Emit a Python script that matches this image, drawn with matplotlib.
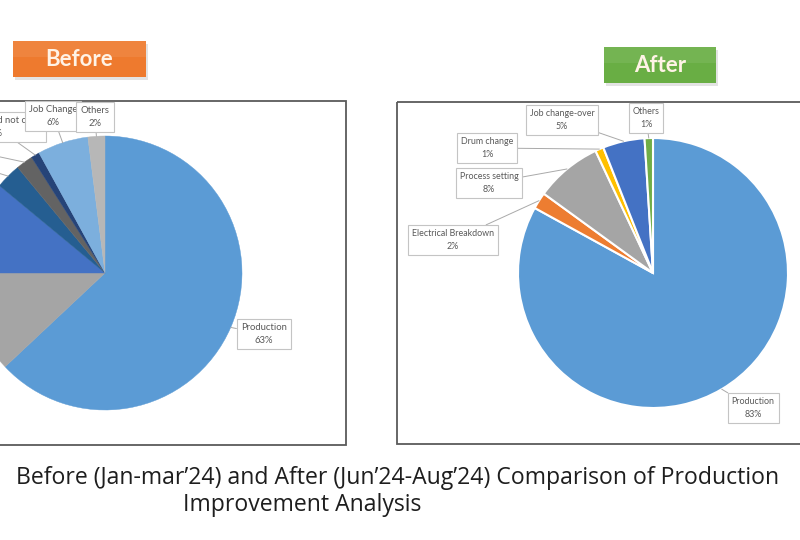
import matplotlib
matplotlib.use("Agg")
import matplotlib.pyplot as plt
from matplotlib.patches import Rectangle
import numpy as np

plt.rcParams['font.family'] = ['Lato', 'DejaVu Sans']

# ---------------- data ----------------
before_labels = ["Production", "Process setting", "Mechanical Breakdown", "Electrical Breakdown",
                 "Drum change", "Material and not clear", "Job Change", "Others"]
before_values = [63, 12, 11, 3, 2, 1, 6, 2]
before_colors = ["#5B9BD5", "#A5A5A5", "#4472C4", "#255E91", "#636363", "#264478", "#7CAFDD", "#B7B7B7"]

after_labels = ["Production", "Electrical Breakdown", "Process setting", "Drum change",
                "Job change-over", "Others"]
after_values = [83, 2, 8, 1, 5, 1]
after_colors = ["#5B9BD5", "#ED7D31", "#A5A5A5", "#FFC000", "#4472C4", "#70AD47"]

title_line1 = "Before (Jan-mar\u201924) and After (Jun\u201924-Aug\u201924) Comparison of Production"
title_line2 = "Improvement Analysis"

W, H = 800, 540
fig = plt.figure(figsize=(8, 5.4), dpi=100)
fig.patch.set_facecolor("white")

# overlay axes in pixel coordinates
ov = fig.add_axes([0, 0, 1, 1], zorder=0)
ov.set_xlim(0, W)
ov.set_ylim(H, 0)
ov.axis("off")

# frames
ov.add_patch(Rectangle((-5, 101), 351, 344, fill=False, ec="#5a5a5a", lw=1.3))
ov.add_patch(Rectangle((397, 102), 410, 342, fill=False, ec="#5a5a5a", lw=1.3))

# badges
def badge(x0, y0, w, h, color, text):
    ov.add_patch(Rectangle((x0 + 2, y0 + 3), w, h, fc="#b0b0b0", ec="none", alpha=0.35))
    ov.add_patch(Rectangle((x0, y0), w, h, fc=color, ec="none"))
    ov.add_patch(Rectangle((x0, y0), w, h * 0.45, fc="white", ec="none", alpha=0.08))
    ov.text(x0 + w / 2, y0 + h / 2 + 1, text, ha="center", va="center",
            fontsize=16, fontweight="bold", color="#FFF3E6", family=['Lato', 'DejaVu Sans'])

badge(13, 41, 133, 36, "#EE7A2E", "Before")
badge(604, 47, 112, 36, "#69AE44", "After")

# title
title_font = ['Open Sans', 'DejaVu Sans']
ov.text(398, 478, title_line1, ha="center", va="center", fontsize=16.6, color="#1e1e1e",
        family=title_font)
ov.text(183, 505, title_line2, ha="left", va="center", fontsize=16.6, color="#1e1e1e",
        family=title_font)


def pie_axes(cx, cy, r):
    return fig.add_axes([(cx - r) / W, (H - cy - r) / H, 2 * r / W, 2 * r / H], zorder=2)


def label_kw(fs):
    return dict(fontsize=fs, color="#595959", ha="center", va="center", linespacing=1.5,
                bbox=dict(boxstyle="square,pad=0.45", fc="white", ec="#c4c4c4", lw=0.8),
                arrowprops=dict(arrowstyle="-", color="#a9a9a9", lw=0.7, shrinkA=0, shrinkB=0),
                textcoords="figure pixels", annotation_clip=False)


def add_labels(ax, wedges, labels, values, positions, order, fs):
    for i in order:
        w = wedges[i]
        ang = np.deg2rad((w.theta1 + w.theta2) / 2)
        px, py = positions[i]
        ax.annotate(f"{labels[i]}\n{values[i]}%", xy=(np.cos(ang), np.sin(ang)),
                    xytext=(px, H - py), zorder=5 + order.index(i), **label_kw(fs))


# ---------------- Before pie ----------------
axb = pie_axes(105, 273, 137)
wb, _ = axb.pie(before_values, colors=before_colors, startangle=90, counterclock=False,
                radius=1, wedgeprops=dict(lw=0.3, edgecolor="none"))
for w, c in zip(wb, before_colors):
    w.set_edgecolor(c)
axb.set_xlim(-1, 1)
axb.set_ylim(-1, 1)
axb.axis("off")

before_pos = [(264, 334), (-110, 330), (-110, 230), (-70, 152), (-65, 143), (-4, 127), (53, 116), (95, 117)]
add_labels(axb, wb, before_labels, before_values, before_pos, [1, 2, 3, 4, 5, 0, 6, 7], 6.8)

# ---------------- After pie ----------------
axa = pie_axes(653, 273, 135)
wa, _ = axa.pie(after_values, colors=after_colors, startangle=90, counterclock=False,
                radius=1, wedgeprops=dict(lw=1.5, edgecolor="white"))
axa.set_xlim(-1, 1)
axa.set_ylim(-1, 1)
axa.axis("off")

after_pos = [(753, 408), (453, 240), (489, 183), (487, 148), (562, 120), (646, 118)]
add_labels(axa, wa, after_labels, after_values, after_pos, [0, 1, 2, 3, 4, 5], 6.4)

fig.savefig("out.png", dpi=100, facecolor="white")
